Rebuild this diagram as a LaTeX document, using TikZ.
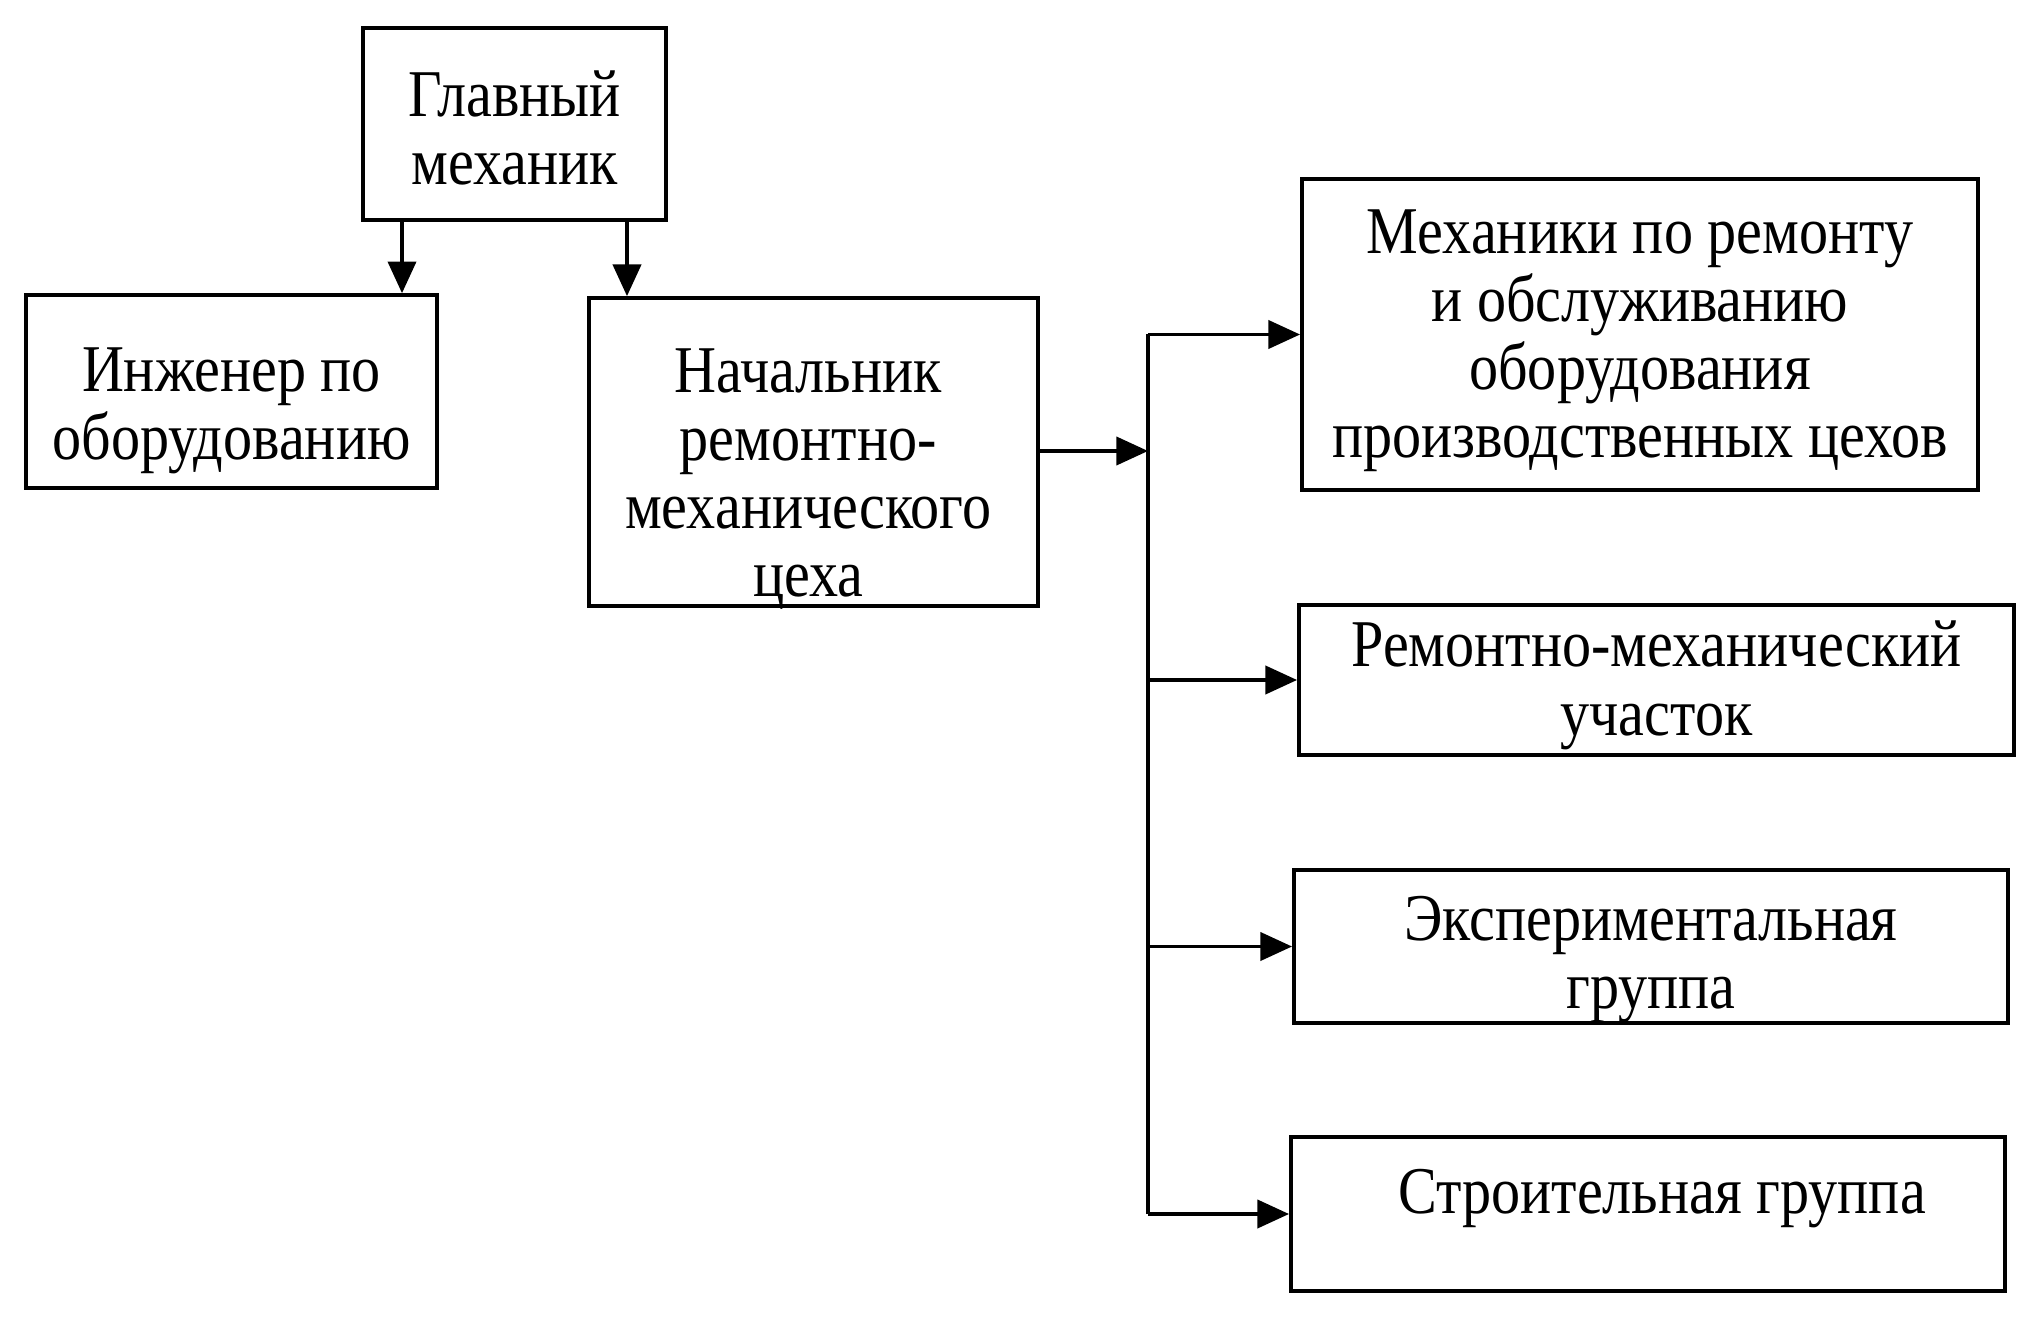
\documentclass[tikz,border=0pt]{standalone}
\usepackage{fontspec}
\setmainfont[FakeStretch=0.87]{Liberation Serif}
\usetikzlibrary{arrows.meta}
\tikzset{
  box/.style={draw, line width=1pt, inner sep=0pt},
  lbl/.style={align=center, inner sep=0pt, font=\fontsize{19}{19.4}\selectfont},
  arr/.style={line width=1pt, -{Triangle[length=9pt,width=8pt]}},
  link/.style={line width=1pt}
}
\begin{document}
\begin{tikzpicture}[x=0.01cm,y=-0.01cm]
\useasboundingbox (0,0) rectangle (2031,1319);
\node[box, minimum width=3.03cm, minimum height=1.92cm,
  label={[lbl, yshift=-1.1pt]center:{Главный\\механик}}] (gm) at (514.5,124) {};
\node[box, minimum width=4.11cm, minimum height=1.93cm,
  label={[lbl, yshift=-5.4pt]center:{Инженер по\\оборудованию}}] (ing) at (231.5,391.5) {};
\node[box, minimum width=4.49cm, minimum height=3.08cm,
  label={[lbl, yshift=-7.7pt, xshift=-1.5pt]center:{Начальник\\ремонтно-\\механического\\цеха}}] (nach) at (813.5,452) {};
\node[box, minimum width=6.76cm, minimum height=3.11cm,
  label={[lbl, yshift=-1.8pt]center:{Механики по ремонту\\и обслуживанию\\оборудования\\производственных цехов}}] (mech) at (1640,334.5) {};
\node[box, minimum width=7.15cm, minimum height=1.50cm,
  label={[lbl, yshift=-1.5pt]center:{Ремонтно-механический\\участок}}] (rem) at (1656.5,680) {};
\node[box, minimum width=7.14cm, minimum height=1.53cm,
  label={[lbl, yshift=-3.7pt]center:{Экспериментальная\\группа}}] (exp) at (1651,946.5) {};
\node[box, minimum width=7.14cm, minimum height=1.54cm,
  label={[lbl, yshift=4.5pt, xshift=4pt]center:{Строительная группа}}] (str) at (1648,1214) {};
\coordinate (x1) at (402,0);
\coordinate (x2) at (627,0);
\coordinate (bus) at (1148,451);
\draw[arr] (gm.south -| x1) -- (ing.north -| x1);
\draw[arr] (gm.south -| x2) -- (nach.north -| x2);
\draw[arr] (nach.east |- bus) -- (bus);
\draw[link] (bus |- mech.west) -- (bus |- str.west);
\draw[arr] (bus |- mech.west) -- (mech.west);
\draw[arr] (bus |- rem.west) -- (rem.west);
\draw[arr] (bus |- exp.west) -- (exp.west);
\draw[arr] (bus |- str.west) -- (str.west);
\end{tikzpicture}
\end{document}
